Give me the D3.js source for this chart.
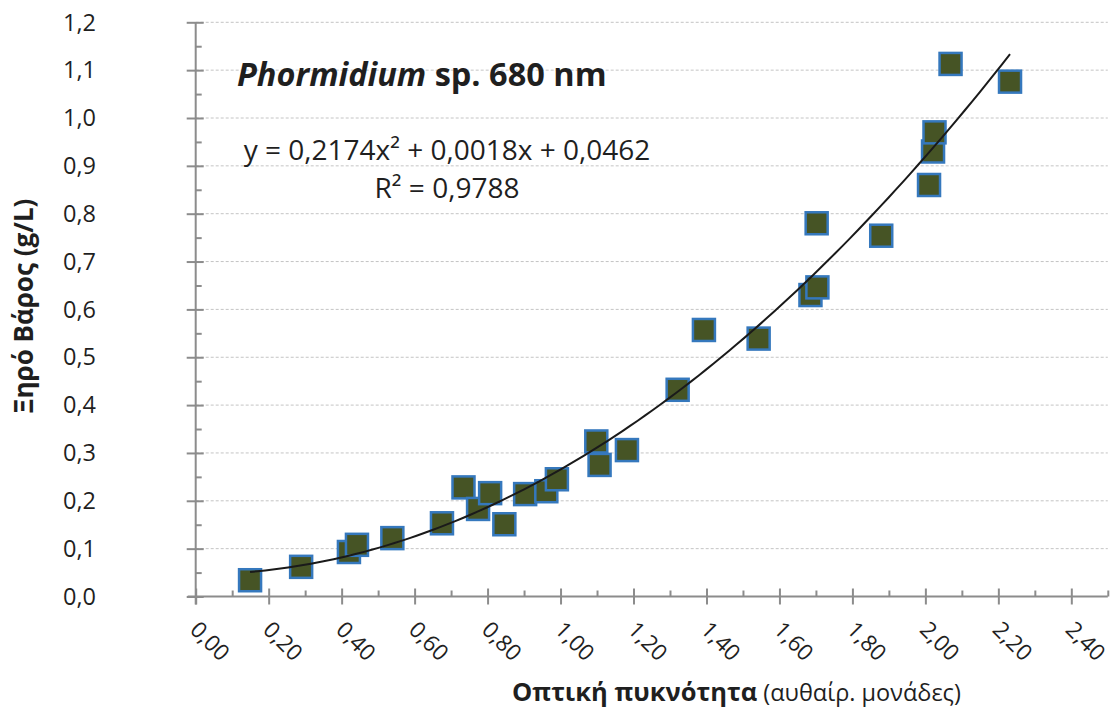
<!DOCTYPE html>
<html>
<head>
<meta charset="utf-8">
<script src="https://cdn.jsdelivr.net/npm/d3@7"></script>
<style>
  html, body { margin: 0; padding: 0; background: #fff; }
  svg { display: block; font-family: "Open Sans", "Noto Sans", sans-serif; }
</style>
</head>
<body>
<svg id="chart" width="1114" height="709"></svg>
<script>
// Optical density (arbitrary units) vs dry weight (g/L), Phormidium sp. at 680 nm
const opticalDensity = [0.149, 0.289, 0.420, 0.442, 0.539, 0.675, 0.734, 0.774, 0.807, 0.846,
  0.903, 0.961, 0.990, 1.098, 1.107, 1.182, 1.321, 1.393, 1.543, 1.685,
  1.704, 1.702, 1.879, 2.010, 2.021, 2.025, 2.069, 2.232];
const dryWeight = [0.034, 0.062, 0.093, 0.108, 0.122, 0.153, 0.228, 0.183, 0.216, 0.151,
  0.214, 0.220, 0.245, 0.324, 0.275, 0.306, 0.432, 0.557, 0.539, 0.630,
  0.646, 0.780, 0.754, 0.860, 0.930, 0.970, 1.113, 1.076];

// Polynomial trendline coefficients (y = a x^2 + b x + c)
const trendCoef = [0.2174, 0.0018, 0.0462];
const trendLabel = "y = 0,2174x² + 0,0018x + 0,0462";
const r2Label = "R² = 0,9788";

const xTicks = [0, 0.2, 0.4, 0.6, 0.8, 1.0, 1.2, 1.4, 1.6, 1.8, 2.0, 2.2, 2.4];
const yTicks = [0, 0.1, 0.2, 0.3, 0.4, 0.5, 0.6, 0.7, 0.8, 0.9, 1.0, 1.1, 1.2];

const svg = d3.select("#chart");
const axisColor = "#8c8c8c";
const textColor = "#1f1f1f";

const x = d3.scaleLinear().domain([0, 2.5]).range([195.7, 1107.8]);
const y = d3.scaleLinear().domain([0, 1.2]).range([596.5, 22.3]);

const fmtX = v => d3.format(".2f")(v).replace(".", ",");
const fmtY = v => d3.format(".1f")(v).replace(".", ",");

// horizontal dashed gridlines
svg.append("g")
  .selectAll("line")
  .data(yTicks.filter(d => d > 0))
  .join("line")
  .attr("x1", x(0)).attr("x2", x(2.5))
  .attr("y1", d => y(d)).attr("y2", d => y(d))
  .attr("stroke", "#c4c4c4")
  .attr("stroke-width", 1)
  .attr("stroke-dasharray", "3,2");

// x axis: major ticks crossing the line, minor ticks inside
const xAxisMajor = d3.axisBottom(x).tickValues(xTicks).tickSize(8).tickFormat("");
const gx = svg.append("g").attr("transform", `translate(0,${y(0)})`).call(xAxisMajor);
gx.select(".domain").remove();
gx.selectAll(".tick line").attr("y1", -8).attr("stroke", axisColor).attr("stroke-width", 2);

const xAxisMinor = d3.axisTop(x).tickValues(d3.range(1, 26, 2).map(i => i / 10)).tickSize(6).tickFormat("");
const gxm = svg.append("g").attr("transform", `translate(0,${y(0)})`).call(xAxisMinor);
gxm.select(".domain").remove();
gxm.selectAll(".tick line").attr("stroke", axisColor).attr("stroke-width", 2);

svg.append("line")
  .attr("x1", x(0) - 8).attr("x2", x(2.5))
  .attr("y1", y(0)).attr("y2", y(0))
  .attr("stroke", axisColor).attr("stroke-width", 2);

// rotated x tick labels
svg.append("g")
  .selectAll("text")
  .data(xTicks)
  .join("text")
  .attr("transform", d => `translate(${x(d) - 7},${631}) rotate(45)`)
  .attr("font-size", 22.5)
  .attr("fill", textColor)
  .text(fmtX);

// y axis: major ticks crossing, minor ticks inside
const yAxisMajor = d3.axisLeft(y).tickValues(yTicks).tickSize(9).tickFormat("");
const gy = svg.append("g").attr("transform", `translate(${x(0)},0)`).call(yAxisMajor);
gy.select(".domain").remove();
gy.selectAll(".tick line").attr("x1", 8).attr("stroke", axisColor).attr("stroke-width", 2);

const yAxisMinor = d3.axisRight(y).tickValues(d3.range(1, 24, 2).map(i => i / 20)).tickSize(6).tickFormat("");
const gym = svg.append("g").attr("transform", `translate(${x(0)},0)`).call(yAxisMinor);
gym.select(".domain").remove();
gym.selectAll(".tick line").attr("stroke", axisColor).attr("stroke-width", 2);

svg.append("line")
  .attr("x1", x(0)).attr("x2", x(0))
  .attr("y1", y(1.2)).attr("y2", y(0) + 8)
  .attr("stroke", axisColor).attr("stroke-width", 2);

svg.append("g")
  .selectAll("text")
  .data(yTicks)
  .join("text")
  .attr("x", 96)
  .attr("y", d => y(d))
  .attr("dy", "0.35em")
  .attr("text-anchor", "end")
  .attr("font-size", 23.5)
  .attr("fill", textColor)
  .text(fmtY);

// trendline drawn over the data's x range
const xMin = d3.min(opticalDensity), xMax = d3.max(opticalDensity);
const trendPts = d3.range(0, 101).map(i => {
  const xv = xMin + (xMax - xMin) * i / 100;
  return [xv, trendCoef[0] * xv * xv + trendCoef[1] * xv + trendCoef[2]];
});
const line = d3.line().x(d => x(d[0])).y(d => y(d[1]));

// square markers
const pts = opticalDensity.map((d, i) => ({ od: d, dw: dryWeight[i] }));
const size = 22;
svg.append("g")
  .selectAll("rect")
  .data(pts)
  .join("rect")
  .attr("x", d => x(d.od) - size / 2)
  .attr("y", d => y(d.dw) - size / 2)
  .attr("width", size).attr("height", size)
  .attr("fill", "#465425")
  .attr("stroke", "#3578bd")
  .attr("stroke-width", 2.5);

svg.append("path")
  .datum(trendPts)
  .attr("d", line)
  .attr("fill", "none")
  .attr("stroke", "#1a1a1a")
  .attr("stroke-width", 2);

// title
const title = svg.append("text")
  .attr("x", 237).attr("y", 86)
  .attr("font-size", 32.5)
  .attr("font-weight", "bold")
  .attr("fill", textColor);
title.append("tspan").attr("font-style", "italic").text("Phormidium");
title.append("tspan").text(" sp. 680 nm");

// trendline equation
svg.append("text")
  .attr("x", 447).attr("y", 160)
  .attr("text-anchor", "middle")
  .attr("font-size", 28)
  .attr("fill", textColor)
  .text(trendLabel);
svg.append("text")
  .attr("x", 447).attr("y", 198)
  .attr("text-anchor", "middle")
  .attr("font-size", 28)
  .attr("fill", textColor)
  .text(r2Label);

// axis titles
const xTitle = svg.append("text")
  .attr("x", 512).attr("y", 701)
  .attr("fill", textColor);
xTitle.append("tspan").attr("font-size", 25.5).attr("font-weight", "bold").text("Οπτική πυκνότητα");
xTitle.append("tspan").attr("font-size", 23.5).text(" (αυθαίρ. μονάδες)");

svg.append("text")
  .attr("transform", `translate(33,306) rotate(-90)`)
  .attr("text-anchor", "middle")
  .attr("font-size", 26)
  .attr("font-weight", "bold")
  .attr("fill", textColor)
  .text("Ξηρό Βάρος (g/L)");
</script>
</body>
</html>
